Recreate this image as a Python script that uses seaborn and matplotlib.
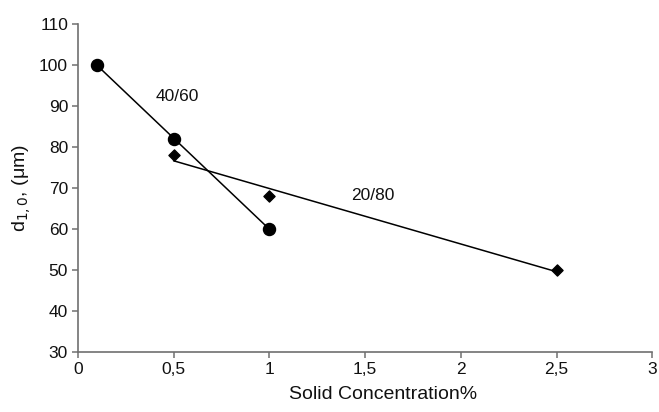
import matplotlib
matplotlib.use("Agg")
import matplotlib.pyplot as plt
import seaborn as sns
import numpy as np
import pandas as pd

# data
x_4060 = [0.1, 0.5, 1.0]
y_4060 = [100, 82, 60]
x_2080 = [0.5, 1.0, 2.5]
y_2080 = [78, 68, 50]
x_ticks = [0, 0.5, 1, 1.5, 2, 2.5, 3]
x_tick_labels = ["0", "0,5", "1", "1,5", "2", "2,5", "3"]
y_ticks = [30, 40, 50, 60, 70, 80, 90, 100, 110]
label_4060 = "40/60"
label_2080 = "20/80"

sns.set_theme(style="white")
plt.rcParams['font.family'] = ['Liberation Sans', 'DejaVu Sans']

fig = plt.figure(figsize=(6.59, 4.12), dpi=100)
ax = fig.add_axes([0.118, 0.146, 0.872, 0.796])

df1 = pd.DataFrame({"x": x_4060, "y": y_4060})
df2 = pd.DataFrame({"x": x_2080, "y": y_2080})

sns.regplot(data=df1, x="x", y="y", ax=ax, ci=None, truncate=True, color="black",
            marker="o", scatter_kws={"s": 75, "alpha": 1, "zorder": 3},
            line_kws={"lw": 1.1})
sns.regplot(data=df2, x="x", y="y", ax=ax, ci=None, truncate=True, color="black",
            marker="D", scatter_kws={"s": 32, "alpha": 1, "zorder": 3},
            line_kws={"lw": 1.1})

ax.text(0.52, 92.2, label_4060, ha="center", va="center", fontsize=12.5, color="#111111")
ax.text(1.54, 68.2, label_2080, ha="center", va="center", fontsize=12.5, color="#111111")

ax.set_xlim(0, 3)
ax.set_ylim(30, 110)
ax.set_xticks(x_ticks)
ax.set_xticklabels(x_tick_labels)
ax.set_yticks(y_ticks)

for s in ["top", "right"]:
    ax.spines[s].set_visible(False)
for s in ["left", "bottom"]:
    ax.spines[s].set_color("#707070")
    ax.spines[s].set_linewidth(1.2)

ax.tick_params(axis="both", which="major", direction="out", length=4, width=1.1,
               color="#707070", labelsize=12.5, labelcolor="#111111",
               bottom=True, left=True, pad=3)

ax.set_xlabel("Solid Concentration%", fontsize=14, color="#111111")
ax.xaxis.set_label_coords(0.532, -0.105)
ax.set_ylabel(r"d$_{1,0}$, (μm)", fontsize=14, color="#111111", labelpad=4)

fig.savefig("out.png", dpi=100, facecolor="white")
